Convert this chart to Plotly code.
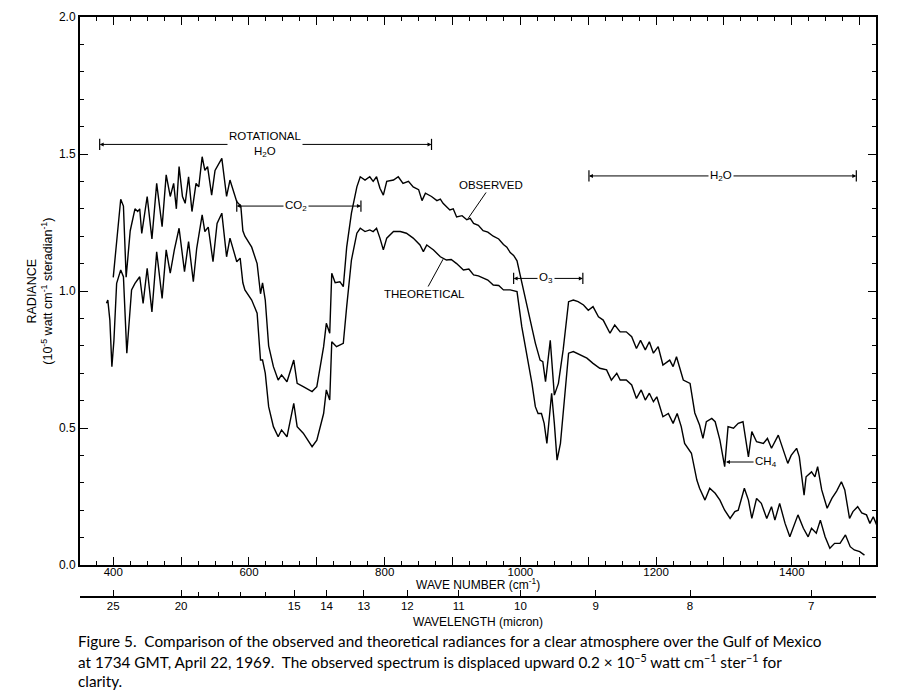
import plotly.graph_objects as go

# ---------------- data ----------------
obs_wn = [400, 405, 411, 415, 419, 425, 432, 436, 439, 442, 450, 457, 464, 472, 478, 484, 489, 493, 497, 502,
          506, 511, 516, 522, 526, 531, 535, 539, 545, 550, 560, 567, 572, 582, 588, 591, 594, 604, 612, 617,
          620, 624, 629, 636, 643, 648, 656, 666, 671, 680, 693, 700, 710, 714, 719, 722, 727, 734, 739, 744,
          751, 759, 764, 771, 778, 783, 788, 793, 798, 803, 813, 820, 827, 835, 842, 850, 855, 860, 865, 869, 877,
          882, 886, 896, 901, 906, 914, 921, 926, 931, 938, 945, 952, 960, 968, 975, 980, 985, 990, 995, 999,
          1007, 1014, 1022, 1029, 1033, 1037, 1044, 1050, 1056,
          1063, 1071, 1078, 1085, 1093, 1100, 1107, 1115, 1122, 1132, 1139, 1147, 1156, 1164, 1171, 1177, 1184, 1190, 1196, 1203,
          1210, 1220, 1225, 1230, 1240, 1250, 1257, 1264, 1269, 1274, 1282, 1287, 1294, 1301, 1306, 1314, 1321, 1328, 1336, 1341,
          1348, 1358, 1364, 1370, 1380, 1387, 1394, 1399, 1407, 1411, 1418, 1421, 1429, 1434, 1438, 1444, 1452, 1459, 1466, 1473,
          1478, 1485, 1490, 1497, 1503, 1510, 1515, 1520, 1525]
obs_val = [1.05, 1.18, 1.335, 1.31, 1.05, 1.22, 1.30, 1.29, 1.30, 1.21, 1.345, 1.19, 1.393, 1.235, 1.424, 1.345, 1.393, 1.30, 1.454, 1.345,
           1.32, 1.417, 1.29, 1.393, 1.38, 1.49, 1.44, 1.454, 1.35, 1.44, 1.484, 1.345, 1.405, 1.326, 1.31, 1.22, 1.20, 1.16, 1.10, 0.99,
           1.03, 0.967, 0.80, 0.724, 0.675, 0.694, 0.669, 0.748, 0.663, 0.651, 0.633, 0.651, 0.797, 0.882, 0.846, 1.065, 1.03, 1.034, 1.016, 1.16,
           1.284, 1.38, 1.417, 1.405, 1.417, 1.40, 1.417, 1.375, 1.35, 1.40, 1.405, 1.417, 1.393, 1.40, 1.38, 1.37, 1.33, 1.357, 1.35, 1.345, 1.33,
           1.335, 1.32, 1.296, 1.30, 1.27, 1.275, 1.26, 1.265, 1.247, 1.24, 1.22, 1.215, 1.20, 1.19, 1.17, 1.16, 1.14, 1.13, 1.11, 1.065,
           0.98, 0.894, 0.81, 0.748, 0.742, 0.669, 0.82, 0.62, 0.663,
           0.785, 0.961, 0.967, 0.961, 0.949, 0.93, 0.943, 0.906, 0.894, 0.846, 0.876, 0.851, 0.851, 0.833, 0.79, 0.82, 0.785, 0.815, 0.773, 0.797,
           0.73, 0.748, 0.724, 0.76, 0.675, 0.663, 0.555, 0.511, 0.462, 0.523, 0.535, 0.523, 0.456, 0.359, 0.505, 0.499, 0.517, 0.523, 0.395, 0.487,
           0.45, 0.444, 0.462, 0.426, 0.474, 0.42, 0.371, 0.40, 0.426, 0.395, 0.255, 0.322, 0.34, 0.322, 0.359, 0.274, 0.207, 0.243, 0.27, 0.304,
           0.274, 0.17, 0.195, 0.213, 0.19, 0.183, 0.152, 0.176, 0.146]

theo_wn = [390, 392, 395, 398, 401, 405, 411, 415, 420, 427, 432, 439, 444, 450, 457, 464, 472, 478, 484, 490,
           497, 505, 511, 518, 523, 531, 535, 540, 547, 553, 560, 567, 572, 582, 587, 591, 594, 604, 612, 617,
           620, 624, 629, 636, 643, 648, 656, 666, 671, 680, 693, 700, 710, 714, 719, 722, 729, 739, 744, 751,
           759, 764, 771, 778, 783, 788, 793, 798, 803, 813, 823, 832, 842, 852, 857, 862, 872, 882, 891, 898, 906,
           911, 916, 924, 931, 938, 945, 952, 960, 968, 975, 985, 995, 1002, 1009, 1017, 1022, 1026, 1031, 1035, 1039, 1043, 1046, 1050, 1054, 1059,
           1064, 1071, 1078, 1088, 1098, 1107, 1117, 1127, 1134, 1142, 1147, 1156, 1164, 1171, 1178, 1184, 1190, 1196, 1201, 1210,
           1218, 1225, 1231, 1237, 1242, 1252, 1260, 1264, 1272, 1279, 1287, 1294, 1301, 1309, 1316, 1321, 1330, 1336, 1341, 1348,
           1355, 1363, 1370, 1375, 1382, 1390, 1397, 1409, 1417, 1424, 1429, 1436, 1442, 1449, 1456, 1463, 1471, 1479, 1486, 1492,
           1500, 1507]
theo_val = [0.955, 0.967, 0.894, 0.724, 0.82, 1.028, 1.077, 1.052, 0.773, 1.004, 1.028, 1.052, 0.955, 1.083, 0.924, 1.143, 0.973, 1.15, 1.065, 1.15,
            1.229, 1.071, 1.18, 1.034, 1.156, 1.278, 1.217, 1.233, 1.107, 1.247, 1.284, 1.125, 1.193, 1.107, 1.12, 1.03, 1.004, 0.967, 0.919, 0.748,
            0.748, 0.70, 0.578, 0.505, 0.468, 0.493, 0.468, 0.59, 0.505, 0.481, 0.432, 0.456, 0.553, 0.639, 0.602, 0.815, 0.797, 0.809, 0.943, 1.113,
            1.211, 1.229, 1.217, 1.223, 1.217, 1.229, 1.193, 1.15, 1.193, 1.217, 1.217, 1.211, 1.193, 1.168, 1.144, 1.168, 1.15, 1.125, 1.113, 1.115, 1.10,
            1.09, 1.077, 1.08, 1.059, 1.055, 1.046, 1.04, 1.022, 1.02, 1.004, 1.004, 0.998, 0.87, 0.773, 0.663, 0.578, 0.553, 0.553, 0.517, 0.444, 0.541, 0.627, 0.517, 0.383, 0.444,
            0.59, 0.773, 0.779, 0.767, 0.755, 0.736, 0.718, 0.712, 0.675, 0.70, 0.675, 0.675, 0.657, 0.608, 0.639, 0.602, 0.627, 0.596, 0.614, 0.541,
            0.553, 0.517, 0.553, 0.505, 0.444, 0.408, 0.31, 0.28, 0.237, 0.28, 0.262, 0.237, 0.20, 0.17, 0.195, 0.20, 0.28, 0.237, 0.17, 0.243,
            0.225, 0.17, 0.213, 0.164, 0.225, 0.152, 0.103, 0.183, 0.134, 0.103, 0.134, 0.116, 0.164, 0.103, 0.061, 0.079, 0.079, 0.11, 0.067, 0.055,
            0.049, 0.036]

# absorption-band markers: (label, start wn, end wn, radiance level)
band_labels = ["ROTATIONAL<br>H<sub>2</sub>O", "CO<sub>2</sub>", "O<sub>3</sub>", "H<sub>2</sub>O"]
band_start = [380, 582, 990, 1101]
band_end = [869, 765, 1092, 1495]
band_level = [1.535, 1.31, 1.046, 1.42]
band_text_x = [624, 670, 1038, 1296]

wn_ticks = [400, 500, 600, 700, 800, 900, 1000, 1100, 1200, 1300, 1400, 1500]
wn_ticktext = ["400", "", "600", "", "800", "", "1000", "", "1200", "", "1400", ""]
y_ticks = [0.0, 0.5, 1.0, 1.5, 2.0]
wavelength_major = [25, 20, 15, 14, 13, 12, 11, 10, 9, 8, 7]
wavelength_minor = [19, 18, 17, 16]

X_RANGE = [351, 1524]
FONT = "Liberation Sans, Arial, sans-serif"

fig = go.Figure()
fig.add_trace(go.Scatter(x=obs_wn, y=obs_val, mode="lines", line=dict(color="black", width=1.4),
                         showlegend=False, hoverinfo="skip"))
fig.add_trace(go.Scatter(x=theo_wn, y=theo_val, mode="lines", line=dict(color="black", width=1.4),
                         showlegend=False, hoverinfo="skip"))
# end caps of band markers
for x0, x1, lv in zip(band_start, band_end, band_level):
    fig.add_trace(go.Scatter(x=[x0, x1], y=[lv, lv], mode="markers",
                             marker=dict(symbol="line-ns", size=8, line=dict(color="black", width=1.2)),
                             showlegend=False, hoverinfo="skip"))
# invisible trace to attach the wavelength axis
fig.add_trace(go.Scatter(x=[10000 / w for w in wavelength_major], y=[None] * len(wavelength_major),
                         xaxis="x2", yaxis="y", mode="markers", showlegend=False, hoverinfo="skip"))

annotations = []
for x0, x1, lv in zip(band_start, band_end, band_level):
    mid = (x0 + x1) / 2
    for end in (x0, x1):
        annotations.append(dict(x=end, y=lv, ax=mid, ay=lv, axref="x", ayref="y", xref="x", yref="y",
                                text="", showarrow=True, arrowhead=2, arrowsize=0.8, arrowwidth=1,
                                arrowcolor="black", standoff=0, startstandoff=0))
for lab, tx, lv in zip(band_labels, band_text_x, band_level):
    annotations.append(dict(x=tx, y=lv, xref="x", yref="y", text=lab, showarrow=False,
                            bgcolor="white", borderpad=1, font=dict(size=11.5, color="black", family=FONT)))

annotations += [
    dict(x=923, y=1.265, ax=957, ay=1.387, axref="x", ayref="y", text="OBSERVED", showarrow=True,
         arrowhead=0, arrowwidth=1, arrowcolor="black", font=dict(size=11.5, family=FONT, color="black")),
    dict(x=886, y=1.116, ax=858, ay=0.989, axref="x", ayref="y", text="THEORETICAL", showarrow=True,
         arrowhead=0, arrowwidth=1, arrowcolor="black", font=dict(size=11.5, family=FONT, color="black")),
    dict(x=1303, y=0.376, ax=1362, ay=0.376, axref="x", ayref="y", text="CH<sub>4</sub>", showarrow=True,
         arrowhead=2, arrowsize=0.8, arrowwidth=1, arrowcolor="black", font=dict(size=11.5, family=FONT, color="black")),
]

# axis titles (placed in paper coordinates)
annotations += [
    dict(x=0.5, y=0.1635, xref="paper", yref="paper", xanchor="center", yanchor="middle", showarrow=False,
         text="WAVE NUMBER (cm<sup>-1</sup>)", font=dict(size=12, family=FONT, color="black")),
    dict(x=0.5, y=0.1075, xref="paper", yref="paper", xanchor="center", yanchor="middle", showarrow=False,
         text="WAVELENGTH (micron)", font=dict(size=12, family=FONT, color="black")),
    dict(x=-0.0505, y=0.596, xref="paper", yref="paper", xanchor="center", yanchor="middle", showarrow=False,
         textangle=-90, text="RADIANCE<br>(10<sup>-5</sup> watt cm<sup>-1</sup> steradian<sup>-1</sup>)",
         font=dict(size=12.5, family=FONT, color="black")),
]

caption = [
    "Figure 5.  Comparison of the observed and theoretical radiances for a clear atmosphere over the Gulf of Mexico",
    "at 1734 GMT, April 22, 1969.  The observed spectrum is displaced upward 0.2 × 10<sup>−5</sup> watt cm<sup>−1</sup> ster<sup>−1</sup> for",
    "clarity.",
]
cap_y = [0.0796, 0.0501, 0.0206]
for line, yy in zip(caption, cap_y):
    annotations.append(dict(x=-0.005, y=yy, xref="paper", yref="paper", xanchor="left", yanchor="middle",
                            text=line, showarrow=False, font=dict(size=15.3, family="Lato, sans-serif", color="black")))

fig.update_layout(
    width=912, height=700,
    margin=dict(l=80, r=36, t=17, b=5, autoexpand=False),
    paper_bgcolor="white", plot_bgcolor="white",
    font=dict(family=FONT, color="black", size=11),
    xaxis=dict(range=X_RANGE, tickmode="array", tickvals=wn_ticks, ticktext=wn_ticktext, automargin=False,
               ticks="inside", ticklen=8, tickwidth=1.3, tickcolor="black", ticklabelstandoff=-5,
               showline=True, linewidth=2, linecolor="black", mirror="ticks",
               showgrid=False, zeroline=False,
               minor=dict(tickmode="linear", tick0=0, dtick=25, ticks="inside", ticklen=4, tickwidth=1, tickcolor="black"),
               tickfont=dict(size=11.5)),
    xaxis2=dict(range=X_RANGE, overlaying="x", anchor="free", position=0.1445, side="bottom", automargin=False,
                tickmode="array", tickvals=[10000 / w for w in wavelength_major],
                ticktext=[str(w) for w in wavelength_major], ticklabelstandoff=-2,
                ticks="inside", ticklen=6, tickwidth=1.3, tickcolor="black",
                showline=True, linewidth=2, linecolor="black", showgrid=False, zeroline=False,
                minor=dict(tickmode="array", tickvals=[10000 / w for w in wavelength_minor],
                           ticks="inside", ticklen=4, tickwidth=1, tickcolor="black"),
                tickfont=dict(size=11.5)),
    yaxis=dict(range=[0, 2], domain=[0.1917, 1], tickmode="array", tickvals=y_ticks, automargin=False,
               ticktext=[f"{v:.1f}" for v in y_ticks],
               ticks="inside", ticklen=8, tickwidth=1.3, tickcolor="black",
               showline=True, linewidth=2, linecolor="black", mirror="ticks",
               showgrid=False, zeroline=False,
               minor=dict(tickmode="linear", tick0=0, dtick=0.1, ticks="inside", ticklen=4, tickwidth=1, tickcolor="black"),
               tickfont=dict(size=12)),
    annotations=annotations,
)

fig.write_html("out.html")
